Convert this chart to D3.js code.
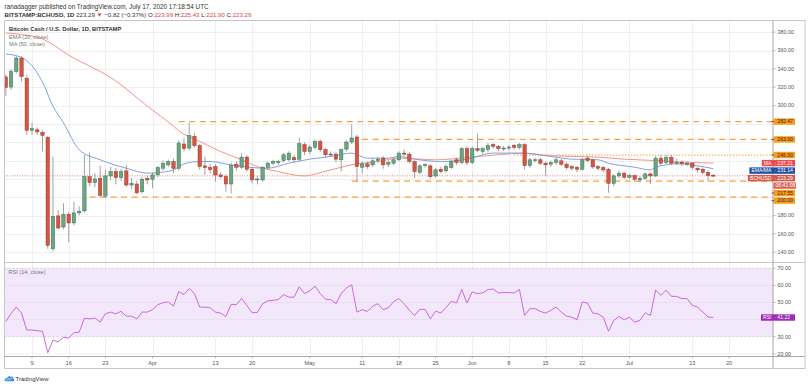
<!DOCTYPE html>
<html><head><meta charset="utf-8">
<script src="https://cdn.jsdelivr.net/npm/d3@7"></script>
<style>
body{margin:0;background:#fff;}
svg{display:block;font-family:"Liberation Sans",Arial,sans-serif;}
</style>
</head><body>
<svg id="c" width="809" height="386"></svg>
<script>
// ---------------- DATA ----------------
const startDate = "2020-03-04";
const opens = [331.2,320.2,337.1,351.8,329.8,273.0,273.5,270.8,265.3,143.7,
179.6,167.5,181.4,171.9,182.9,185.1,222.4,215.8,220.7,201.2,
223.2,227.9,221.3,228.7,213.3,214.4,205.9,220.7,219.6,224.3,
231.6,235.3,238.9,231.6,258.0,253.6,266.4,256.2,234.2,232.3,
233.4,224.3,222.4,214.4,236.0,232.7,243.7,230.5,218.8,218.8,
232.7,237.1,237.8,240.0,240.8,243.3,241.5,257.3,249.9,254.3,
260.9,251.8,247.0,247.0,240.8,252.5,260.2,265.7,232.7,236.4,
235.3,240.0,242.6,236.0,237.1,240.8,248.1,247.0,238.9,227.2,
235.0,234.2,223.2,230.5,228.7,232.3,240.8,237.8,252.9,237.8,
252.9,249.9,251.8,257.3,255.4,252.5,253.6,256.5,254.3,257.3,
234.5,240.0,240.8,237.1,236.0,237.8,239.7,236.0,233.4,232.7,
230.5,242.6,240.8,233.4,232.3,230.5,215.2,223.2,226.2,221.8,
223.5,218.8,220.7,225.4,223.2,242.6,237.8,243.3,237.1,238.2,
236.4,237.1,231.6,230.5,227.2,223.99];
const highs = [334,340,354,354,333,281.1,276,273,267,244.4,
186,193.5,184,195,190,246.3,248.5,226,234.2,230,
233,232,231,235,221,218,222,224,227,234,
240,241,242,262,265,281.1,270,258,244.4,236,
236,227,225,238,239,248.1,246,233,223,234,
239,241,241,248,250,246,264.9,260,257,263,
263,254,250,249,253,262,279.2,268,239,239,
242,244,245,240,243,250,252,249,240,236,
237,236,232,233,236,241,243,255,256,255,
269.3,255,259,259,257,256,257,258,259,259,
243,243,243,239,240,243,242,238,235,234,
243,245,242,235,234,232,225,229,228,226,
225,223,227,227,245,246,246,246,242,240,
239,238,233,232,229,225.43];
const lows = [310.3,317,335,326,268,268.2,268,249.9,143.7,141,
165,165,151.0,169.3,180,183,212,211,200.4,199,
219,214,218,211,209,203,204,214,209.7,222,
229,233,226.2,229,250,251,254,230,224.3,226,
216.9,220,205.9,204.2,229,231,228,215,214,217,
230,235,235,238,239,238,239,246,247,252,
249,243,244,238,227.9,250,258,216.9,226,231,
233,237,231,233,235,239,245,237,220.7,225,
232,220,221,226,227,231,235,236,235,236,
249,247,249,253,250,250,251,252,252,230,
232,238,235,223.5,233,235,234,230,229,227,
229,238,231,229,227,204.8,212,221,220,220,
217,216,219,214.4,222,235,236,235,235,234,
234,230,227,225,216.9,221.90];
const closes = [319.6,337.1,351.8,331.6,273.0,274.8,271.2,267.5,147.4,179.2,
166.4,181.1,171.9,182.9,184.7,222.4,215.8,219.9,202.0,223.2,
227.9,221.3,227.9,213.3,215.2,204.8,219.6,218.8,224.3,232.3,
237.1,238.9,231.6,259.1,252.9,267.1,256.2,233.4,232.3,230.0,
224.3,222.4,214.4,234.5,232.7,243.7,230.5,218.8,219.9,232.7,
237.1,238.9,238.9,246.3,248.1,240.8,258.4,249.9,254.7,260.9,
251.8,246.3,246.3,241.5,251.8,260.2,264.6,233.4,236.4,233.4,
239.7,241.5,235.3,237.8,240.8,248.1,247.0,238.9,227.9,234.2,
235.5,222.4,229.8,227.9,233.4,238.9,237.8,252.9,237.8,252.9,
251.0,252.9,256.5,255.4,252.9,253.6,254.7,254.3,257.3,234.5,
240.8,240.8,237.1,235.3,237.8,240.8,236.0,232.3,231.6,230.5,
240.8,240.0,233.0,231.6,229.8,215.2,223.2,226.2,221.8,223.5,
219.6,220.7,225.4,223.2,242.6,237.1,243.3,237.1,238.2,236.4,
237.1,232.7,229.8,227.2,223.5,223.29];
const rsiValues = [38.9,43.5,47.3,43.8,33.9,33.9,33.5,33.2,20.7,28.0,
27.0,29.6,29.2,32.4,32.6,40.8,40.4,41.0,38.5,43.4,
44.4,43.4,44.8,42.0,42.0,40.4,44.4,44.4,45.8,48.7,
49.9,50.3,47.9,56.4,54.6,58.2,55.2,47.3,47.3,46.9,
44.4,43.8,41.8,48.9,48.7,52.3,48.3,44.0,44.2,49.3,
50.9,51.3,51.7,54.6,53.1,53.1,59.2,55.2,56.8,59.6,
55.2,51.9,51.7,49.3,55.2,58.6,60.3,44.4,45.8,44.8,
47.9,49.3,45.8,46.9,50.5,52.3,49.3,45.5,42.4,46.0,
46.0,40.4,45.0,43.8,47.0,50.7,49.7,57.6,49.7,56.2,
55.2,55.6,57.6,57.8,55.6,55.8,55.8,55.6,57.6,42.4,
46.4,46.4,44.8,43.8,45.4,47.3,44.4,42.0,41.4,39.9,
50.3,49.7,43.8,43.4,41.4,33.2,39.5,41.8,39.9,41.4,
38.5,39.5,44.0,42.4,57.2,54.2,57.2,53.6,53.6,52.3,
52.3,48.3,47.3,44.4,41.6,41.22];
// EMA(20) and MA(50) at these day indexes
const emaIdx = [0,3,7,9,11,14,18,23,27,29,32,34,37,39,43,47,50,54,58,62,66,67,69,73,75,78,83,88,93,98,104,108,113,115,120,123,124,128,132,135];
const emaVal = [356.2,352.5,325.7,299.3,281.1,251.8,240.8,231.6,226.2,226.8,229.8,236.4,238.9,238.9,235.3,232.3,231.6,237.1,241.5,244.4,248.1,246.3,242.6,242.6,244.4,241.5,238.9,241.5,248.1,248.1,244.4,241.5,240.8,237.1,232.7,229.8,232.7,236.4,234.2,231.14];
const maIdx = [0,3,7,12,21,27,32,33,37,41,45,48,52,57,60,64,67,71,75,82,88,94,99,104,113,118,124,131,135];
const maVal = [379.2,377.5,372.6,355,326.8,299.3,277.4,272.5,260.9,249.9,240.8,233.4,227.9,223.2,226.8,232.7,236.4,238.9,242.6,240.8,243.3,246.3,248.1,245.2,243.7,241.5,240.0,237.8,237.21];
// horizontal levels drawn by the author
const levelPrices = [282.47, 263.00, 246.00, 217.55, 200.00];
const levelStarts = ["2020-04-06","2020-05-11","2020-06-09","2020-05-09","2020-03-20"];
const dottedLevel = 246.00;
const lastPrice = 223.29;
const maLast = 237.21, emaLast = 231.14, rsiLast = 41.22;
const countdown = "06:41:08";
// axes
const priceGrid = [140,160,180,200,220,240,260,280,300,320,340,360,380];
const priceTickLabels = [140,160,180,300,320,340,360,380];
const rsiGrid = [20,40,50,60];
const rsiTickLabels = [20,30,50,60,70];
const timeTickDates = ["2020-03-09","2020-03-16","2020-03-23","2020-04-01","2020-04-13","2020-04-20","2020-05-01","2020-05-11","2020-05-18","2020-05-25","2020-06-01","2020-06-08","2020-06-15","2020-06-22","2020-07-01","2020-07-13","2020-07-20"];
const timeTickLabels = ["9","16","23","Apr","13","20","May","11","18","25","Jun","8","15","22","Jul","13","20"];

// ---------------- LAYOUT ----------------
const svg = d3.select("#c");
const L = 4.5, AX = 773, R = 805, T = 20.5, MB = 262.5, RT = 263, RB = 356.5, B = 368.5;
const parse = d3.utcParse("%Y-%m-%d");
const t0 = parse(startDate);
const dates = opens.map((_, i) => d3.utcDay.offset(t0, i));
const x = d3.scaleUtc().domain([t0, dates[dates.length - 1]]).range([5.8, 713.3]);
const y = d3.scaleLinear().domain([140, 380]).range([252.2, 32.2]);
const yr = d3.scaleLinear().domain([30, 70]).range([336.7, 268.3]);

const defs = svg.append("defs");
defs.append("clipPath").attr("id", "cm").append("rect").attr("x", L).attr("y", T).attr("width", AX - L).attr("height", MB - T);
defs.append("clipPath").attr("id", "cr").append("rect").attr("x", L).attr("y", RT).attr("width", AX - L).attr("height", RB - RT);

const gridCol = "#efeff2";
// vertical grid
const tDates = timeTickDates.map(parse);
svg.append("g").selectAll("line").data(tDates).join("line")
  .attr("x1", d => Math.round(x(d)) + 0.5).attr("x2", d => Math.round(x(d)) + 0.5)
  .attr("y1", T).attr("y2", RB).attr("stroke", gridCol).attr("stroke-width", 1);
// horizontal grid main
svg.append("g").selectAll("line").data(priceGrid).join("line")
  .attr("x1", L).attr("x2", AX).attr("y1", d => Math.round(y(d)) + 0.5).attr("y2", d => Math.round(y(d)) + 0.5)
  .attr("stroke", gridCol);
// RSI band and grid
svg.append("rect").attr("x", L).attr("width", AX - L).attr("y", yr(70)).attr("height", yr(30) - yr(70)).attr("fill", "#f3e7fb");
svg.append("g").selectAll("line").data(rsiGrid).join("line")
  .attr("x1", L).attr("x2", AX).attr("y1", d => yr(d)).attr("y2", d => yr(d))
  .attr("stroke", d => (d === 20 ? gridCol : "#e6dcee")).attr("stroke-width", 0.8);
svg.append("g").selectAll("line").data([30, 70]).join("line")
  .attr("x1", L).attr("x2", AX).attr("y1", d => yr(d)).attr("y2", d => yr(d))
  .attr("stroke", "#c4bccd").attr("stroke-width", 0.7).attr("stroke-dasharray", "2,2");

// main pane content
const gm = svg.append("g").attr("clip-path", "url(#cm)");
// levels
levelPrices.forEach((p, i) => {
  gm.append("line").attr("x1", x(parse(levelStarts[i]))).attr("x2", AX)
    .attr("y1", y(p)).attr("y2", y(p))
    .attr("stroke", "#f9a23c").attr("stroke-width", 1.3)
    .attr("stroke-dasharray", p === dottedLevel ? "1.2,1.8" : "6,4.5");
});
// last price line
gm.append("line").attr("x1", L).attr("x2", AX).attr("y1", y(lastPrice)).attr("y2", y(lastPrice))
  .attr("stroke", "#e0776c").attr("stroke-width", 0.9).attr("stroke-dasharray", "1,1.5");
// MA & EMA
const lineGen = d3.line().x(d => x(dates[d[0]])).y(d => y(d[1])).curve(d3.curveMonotoneX);
gm.append("path").datum(maIdx.map((k, i) => [k, maVal[i]])).attr("d", lineGen)
  .attr("fill", "none").attr("stroke", "#f4928a").attr("stroke-width", 1);
gm.append("path").datum(emaIdx.map((k, i) => [k, emaVal[i]])).attr("d", lineGen)
  .attr("fill", "none").attr("stroke", "#7fa2dc").attr("stroke-width", 1);
// candles
const cw = 3.4;
const cg = gm.append("g");
dates.forEach((d, i) => {
  const o = opens[i], h = highs[i], l = lows[i], c = closes[i];
  const up = c >= o;
  const cx = x(d);
  cg.append("line").attr("x1", cx).attr("x2", cx).attr("y1", y(h)).attr("y2", y(l))
    .attr("stroke", "#8a8a8c").attr("stroke-width", 0.8);
  const yt = y(Math.max(o, c)), yb = y(Math.min(o, c));
  cg.append("rect").attr("x", cx - cw / 2).attr("y", yt).attr("width", cw).attr("height", Math.max(0.9, yb - yt))
    .attr("fill", up ? "#6ba583" : "#d75442").attr("stroke", up ? "#3f7355" : "#9c3a2e").attr("stroke-width", 0.5);
});

// RSI line
const gr = svg.append("g").attr("clip-path", "url(#cr)");
gr.append("path").datum(rsiValues).attr("fill", "none").attr("stroke", "#c45bd9").attr("stroke-width", 0.9)
  .attr("d", d3.line().x((d, i) => x(dates[i])).y(d => yr(d)));

// frames
const frameCol = "#c3c6cb";
svg.append("rect").attr("x", L).attr("y", T).attr("width", R - L).attr("height", B - T).attr("fill", "none").attr("stroke", frameCol).attr("stroke-width", 1);
svg.append("line").attr("x1", L).attr("x2", R).attr("y1", MB).attr("y2", MB).attr("stroke", "#c8cace").attr("stroke-width", 1.2);
svg.append("line").attr("x1", L).attr("x2", R).attr("y1", RB).attr("y2", RB).attr("stroke", "#8f9297").attr("stroke-width", 0.8);
svg.append("line").attr("x1", AX).attr("x2", AX).attr("y1", T).attr("y2", B).attr("stroke", "#8f9297").attr("stroke-width", 0.8);

// axis text
const axCol = "#555";
const fs = 5.4;
svg.append("g").selectAll("text").data(priceTickLabels).join("text")
  .attr("x", 777.5).attr("y", d => y(d)).attr("dy", "0.35em").attr("font-size", fs).attr("fill", axCol)
  .text(d => d3.format(".2f")(d));
svg.append("g").selectAll("line").data(priceTickLabels).join("line")
  .attr("x1", AX).attr("x2", AX + 2.5).attr("y1", d => y(d)).attr("y2", d => y(d)).attr("stroke", "#8f9297").attr("stroke-width", 0.6);
svg.append("g").selectAll("text").data(rsiTickLabels).join("text")
  .attr("x", 777.5).attr("y", d => yr(d)).attr("dy", "0.35em").attr("font-size", fs).attr("fill", axCol)
  .text(d => d3.format(".2f")(d));
svg.append("g").selectAll("line").data(rsiTickLabels).join("line")
  .attr("x1", AX).attr("x2", AX + 2.5).attr("y1", d => yr(d)).attr("y2", d => yr(d)).attr("stroke", "#8f9297").attr("stroke-width", 0.6);
svg.append("g").selectAll("text").data(tDates).join("text")
  .attr("x", d => x(d)).attr("y", 364.5).attr("text-anchor", "middle").attr("font-size", 5.6).attr("fill", axCol)
  .text((d, i) => timeTickLabels[i]);
svg.append("g").selectAll("line").data(tDates).join("line")
  .attr("x1", d => x(d)).attr("x2", d => x(d)).attr("y1", RB).attr("y2", RB + 2).attr("stroke", "#8f9297").attr("stroke-width", 0.6);

// price-scale labels with stacking
const boxH = 6.4, gap = 7.5;
const labels = [];
levelPrices.forEach(p => labels.push({ v: p, name: null, val: d3.format(".2f")(p), bg: "#fb9b1c", fg: "#2a2a2a", tick: true }));
labels.push({ v: maLast, name: "MA", val: d3.format(".2f")(maLast), bg: "#ef4a4d", fg: "#fff" });
labels.push({ v: emaLast, name: "EMA/MA", val: d3.format(".2f")(emaLast), bg: "#1f50a6", fg: "#fff" });
labels.push({ v: lastPrice, name: "BCHUSD", val: d3.format(".2f")(lastPrice), bg: "#d4584b", fg: "#fff" });
labels.push({ v: lastPrice - 0.001, name: null, val: countdown, bg: "#d96559", fg: "#fff", wide: true });
labels.forEach(l => l.y = y(l.v));
labels.sort((a, b) => a.y - b.y);
for (let i = 1; i < labels.length; i++) labels[i].y = Math.max(labels[i].y, labels[i - 1].y + gap);
const lg = svg.append("g");
function drawLabel(l) {
  const g = lg.append("g");
  const valW = l.wide ? 22.5 : 21.5;
  let x0 = AX + 0.5;
  const nameT = l.name ? g.append("text").attr("font-size", 5.1).attr("fill", l.fg).text(l.name) : null;
  let nameW = 0;
  if (nameT) nameW = nameT.node().getComputedTextLength() + 4;
  g.insert("rect", ":first-child").attr("x", x0 - nameW).attr("y", l.y - boxH / 2).attr("width", nameW + valW).attr("height", boxH).attr("fill", l.bg);
  if (nameT) nameT.attr("x", x0 - nameW + 2).attr("y", l.y).attr("dy", "0.35em");
  if (l.name) g.append("text").attr("x", x0 + 1).attr("y", l.y).attr("dy", "0.35em").attr("font-size", 5.1).attr("fill", l.fg).text("·");
  g.append("text").attr("x", l.wide ? x0 + 2 : x0 + 3.8).attr("y", l.y).attr("dy", "0.35em").attr("font-size", 5.1).attr("fill", l.fg).text(l.val);
  if (l.tick) g.append("line").attr("x1", AX - 1.5).attr("x2", AX + 1).attr("y1", l.y).attr("y2", l.y).attr("stroke", "#222").attr("stroke-width", 0.7);
}
labels.forEach(drawLabel);
drawLabel({ y: yr(rsiLast), name: "RSI", val: d3.format(".2f")(rsiLast), bg: "#9d2bb5", fg: "#fff" });

// titles
svg.append("text").attr("x", 9).attr("y", 30.8).attr("font-size", 5.8).attr("font-weight", "bold").attr("fill", "#333")
  .text("Bitcoin Cash / U.S. Dollar, 1D, BITSTAMP");
svg.append("text").attr("x", 9).attr("y", 38.6).attr("font-size", 5.6).attr("fill", "#777").text("EMA (20, close)");
svg.append("text").attr("x", 9).attr("y", 46.2).attr("font-size", 5.6).attr("fill", "#777").text("MA (50, close)");
svg.append("text").attr("x", 8.5).attr("y", 273.8).attr("font-size", 5.6).attr("fill", "#777").text("RSI (14, close)");

// header
svg.append("text").attr("x", 4.5).attr("y", 9).attr("font-size", 6.4).attr("fill", "#333")
  .text("ranadagger published on TradingView.com, July 17, 2020 17:18:54 UTC");
const h2 = svg.append("text").attr("x", 4.5).attr("y", 17.4).attr("font-size", 6.1).attr("fill", "#333");
h2.append("tspan").attr("font-weight", "bold").text("BITSTAMP:BCHUSD, 1D ");
h2.append("tspan").text(" " + lastPrice.toFixed(2) + " ");
h2.append("tspan").attr("fill", "#e0463f").text("▼");
h2.append("tspan").text(" −0.82 (−0.37%) O:");
h2.append("tspan").attr("fill", "#e0463f").text(opens[opens.length - 1].toFixed(2));
h2.append("tspan").text(" H:");
h2.append("tspan").attr("fill", "#e0463f").text(highs[highs.length - 1].toFixed(2));
h2.append("tspan").text(" L:");
h2.append("tspan").attr("fill", "#e0463f").text(lows[lows.length - 1].toFixed(2));
h2.append("tspan").text(" C:");
h2.append("tspan").attr("fill", "#e0463f").text(closes[closes.length - 1].toFixed(2));

// TradingView logo
const logo = svg.append("g");
logo.append("path").attr("d", "M4.8,381.2 C4.2,379 5.6,377.6 7.2,378 C7.6,376.2 9.6,375.6 10.8,376.8 C12,376 13.8,377 13.4,378.8 C14.6,379.2 14.6,381 13.6,381.2 Z").attr("fill", "#3c8ce6");
logo.append("path").attr("d", "M6,380.6 L8.2,378.4 L9.8,379.8 L12.2,377.6").attr("fill", "none").attr("stroke", "#fff").attr("stroke-width", 0.7);
svg.append("text").attr("x", 15.5).attr("y", 381.2).attr("font-size", 6).attr("fill", "#333").text("TradingView");
</script>
</body></html>
